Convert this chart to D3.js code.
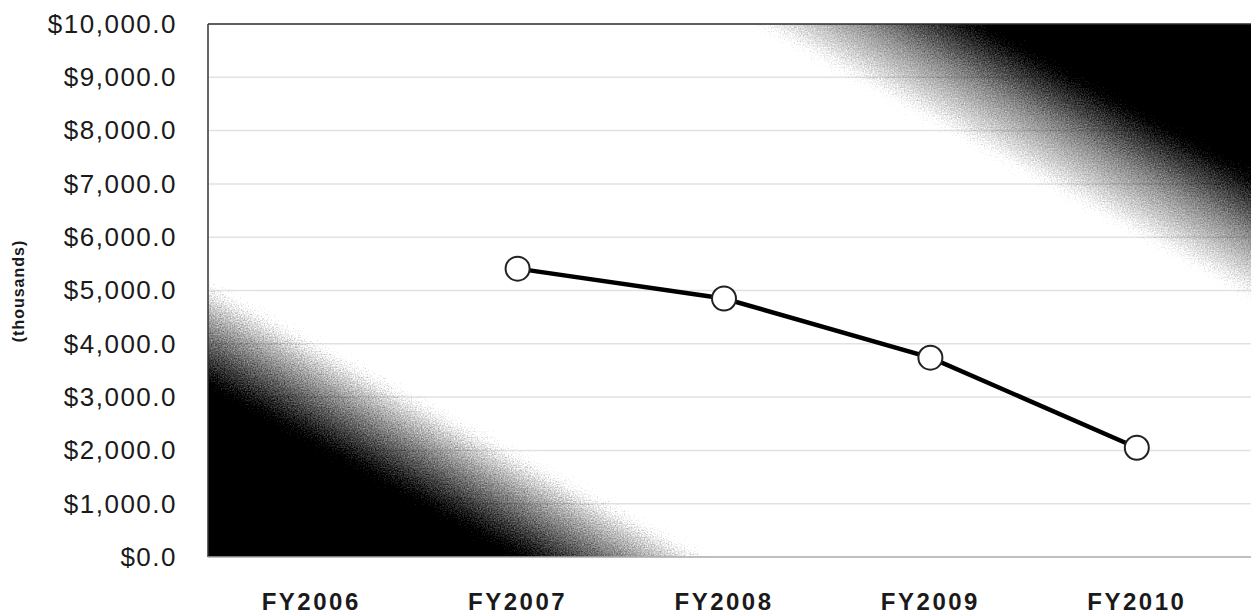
<!DOCTYPE html>
<html>
<head>
<meta charset="utf-8">
<script src="https://cdn.jsdelivr.net/npm/d3@7"></script>
<style>
  html, body { margin: 0; padding: 0; background: #fff; }
  svg { display: block; }
</style>
</head>
<body>
<svg id="chart" width="1251" height="616"></svg>
<script>
// FY funding line chart (thousands of $), with a scanned-style dark corner background

// Data
const years = ["FY2006", "FY2007", "FY2008", "FY2009", "FY2010"];
const values = [null, 5410, 4850, 3740, 2050];
const yTicks = [0, 1000, 2000, 3000, 4000, 5000, 6000, 7000, 8000, 9000, 10000];

const svg = d3.select("#chart");
const W = 1251, H = 616;

// Plot frame
const plotL = 208, plotR = 1240, plotT = 24, plotB = 557;

const x = d3.scaleBand().domain(years).range([plotL, plotR]);
const y = d3.scaleLinear().domain([0, 10000]).range([plotB, plotT]);

const defs = svg.append("defs");

// diagonal gradient: dark bottom-left and top-right corners, white band between
const nx = 0.482, ny = -0.876, span = 970;
const grad = defs.append("linearGradient")
  .attr("id", "bg")
  .attr("gradientUnits", "userSpaceOnUse")
  .attr("x1", plotL).attr("y1", plotB)
  .attr("x2", plotL + nx * span).attr("y2", plotB + ny * span);
[
  [0, "#000"], [0.16, "#050505"], [0.2, "#7a7a7a"], [0.245, "#fff"],
  [0.755, "#fff"], [0.81, "#8a8a8a"], [0.86, "#050505"], [1, "#000"]
].forEach(([o, c]) => grad.append("stop").attr("offset", o).attr("stop-color", c));

// speckle, like a photocopy
const grain = defs.append("filter").attr("id", "grain")
  .attr("x", "0").attr("y", "0").attr("width", "100%").attr("height", "100%");
grain.append("feTurbulence").attr("type", "fractalNoise")
  .attr("baseFrequency", 0.7).attr("numOctaves", 2).attr("seed", 4).attr("result", "n");
grain.append("feDisplacementMap").attr("in", "SourceGraphic").attr("in2", "n")
  .attr("scale", 44).attr("xChannelSelector", "R").attr("yChannelSelector", "G");

defs.append("clipPath").attr("id", "plotClip")
  .append("rect").attr("x", plotL).attr("y", plotT).attr("width", W - plotL).attr("height", plotB - plotT);

const bgG = svg.append("g").attr("clip-path", "url(#plotClip)");
bgG.append("rect")
  .attr("x", plotL - 40).attr("y", plotT - 40)
  .attr("width", W - plotL + 80).attr("height", plotB - plotT + 80)
  .attr("fill", "url(#bg)")
  .attr("filter", "url(#grain)");

// gridlines (faint on white, show up over the grey)
bgG.append("g")
  .selectAll("line")
  .data(yTicks.slice(1, -1))
  .join("line")
  .attr("x1", plotL).attr("x2", W)
  .attr("y1", (d) => y(d)).attr("y2", (d) => y(d))
  .attr("stroke", "#e2e2e2")
  .attr("stroke-width", 1.5)
  .style("mix-blend-mode", "multiply");

// frame lines
svg.append("line").attr("x1", plotL).attr("x2", W).attr("y1", plotT).attr("y2", plotT)
  .attr("stroke", "#2a2a2a").attr("stroke-width", 1.5);
svg.append("line").attr("x1", plotL).attr("x2", plotL).attr("y1", plotT).attr("y2", plotB)
  .attr("stroke", "#333").attr("stroke-width", 1.5);
svg.append("line").attr("x1", plotL).attr("x2", W).attr("y1", plotB).attr("y2", plotB)
  .attr("stroke", "#aaa").attr("stroke-width", 1.5);

// Y axis
const yAxisG = svg.append("g")
  .attr("transform", `translate(${plotL},0)`)
  .call(d3.axisLeft(y).tickValues(yTicks).tickSize(0).tickPadding(31)
    .tickFormat((d) => "$" + d3.format(",.1f")(d)));
yAxisG.select(".domain").remove();
yAxisG.selectAll("text")
  .attr("font-family", "'Liberation Sans', Arial, sans-serif")
  .attr("font-size", 26)
  .attr("letter-spacing", 1.5)
  .attr("fill", "#1a1a1a");

// X axis
const xAxisG = svg.append("g")
  .attr("transform", `translate(0,${plotB})`)
  .call(d3.axisBottom(x).tickSize(0).tickPadding(36));
xAxisG.select(".domain").remove();
xAxisG.selectAll("text")
  .attr("font-family", "'Liberation Sans', Arial, sans-serif")
  .attr("font-size", 24)
  .attr("font-weight", "bold")
  .attr("letter-spacing", 2.5)
  .attr("fill", "#1a1a1a");

// axis title
svg.append("text")
  .attr("transform", `translate(24,291) rotate(-90)`)
  .attr("text-anchor", "middle")
  .attr("font-family", "'Liberation Sans', Arial, sans-serif")
  .attr("font-size", 16)
  .attr("font-weight", "bold")
  .attr("letter-spacing", 1)
  .attr("fill", "#1a1a1a")
  .text("(thousands)");

// Line + markers
const pts = years.map((yr, i) => ({ yr, v: values[i] })).filter((d) => d.v != null);
const cx = (d) => x(d.yr) + x.bandwidth() / 2;

svg.append("path")
  .datum(pts)
  .attr("fill", "none")
  .attr("stroke", "#000")
  .attr("stroke-width", 4.5)
  .attr("d", d3.line().x(cx).y((d) => y(d.v)));

svg.append("g")
  .selectAll("circle")
  .data(pts)
  .join("circle")
  .attr("cx", cx)
  .attr("cy", (d) => y(d.v))
  .attr("r", 12)
  .attr("fill", "#fff")
  .attr("stroke", "#222")
  .attr("stroke-width", 2);
</script>
</body>
</html>
